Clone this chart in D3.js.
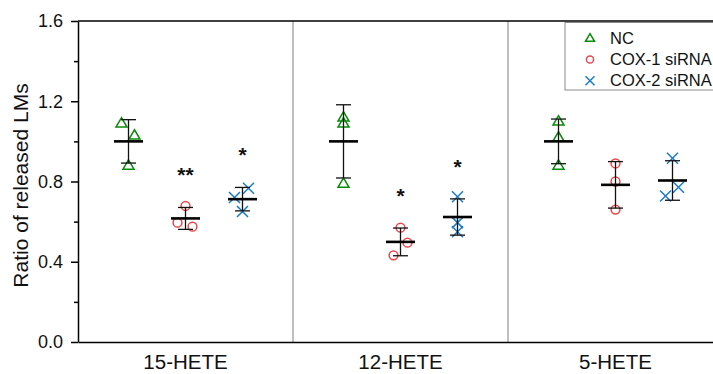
<!DOCTYPE html>
<html>
<head>
<meta charset="utf-8">
<script src="https://cdn.jsdelivr.net/npm/d3@7"></script>
<style>
  body { margin: 0; background: #fff; }
  svg { display: block; font-family: "Liberation Sans", Arial, sans-serif; }
</style>
</head>
<body>
<script>
// data
const categories = ["15-HETE", "12-HETE", "5-HETE"];
const groups = ["NC", "COX-1 siRNA", "COX-2 siRNA"];
const ncValues = [[1.09, 1.03, 0.88], [1.12, 1.09, 0.79], [1.10, 1.02, 0.88]];
const cox1Values = [[0.678, 0.595, 0.575], [0.57, 0.495, 0.432], [0.89, 0.80, 0.66]];
const cox2Values = [[0.766, 0.72, 0.65], [0.724, 0.595, 0.55], [0.916, 0.771, 0.728]];
const stars = [["", "**", "*"], ["", "*", "*"], ["", "", ""]];
const yTicks = [0, 0.4, 0.8, 1.2, 1.6];
const yMinorTicks = [0.2, 0.6, 1.0, 1.4];

const svgWidth = 713,
  svgHeight = 374,
  plotLeft = 78,
  plotRight = 723,
  plotTop = 21,
  plotBottom = 342;

const colors = { "NC": "#0a8a0a", "COX-1 siRNA": "#e8474c", "COX-2 siRNA": "#1a7cc6" };

// little horizontal scatter of the replicate points (px), like the original
const jitter = [
  [[-7, 6, 0], [0, -8, 7], [6, -8, 0]],
  [[0, 0, 0], [0, 7, -7], [0, 0, 0]],
  [[0, 0, 0], [0, 0, 0], [0, 6, -7]]
];

const x = d3.scaleBand().domain(categories).range([plotLeft, plotRight]);
const xg = d3.scalePoint().domain(groups).range([-57, 57]);
const y = d3.scaleLinear().domain([0, 1.6]).range([plotBottom, plotTop]);

const svg = d3.select("body").append("svg")
  .attr("width", svgWidth)
  .attr("height", svgHeight)
  .style("overflow", "hidden");

// panel dividers
svg.append("g").selectAll("line")
  .data(categories.slice(1))
  .join("line")
  .attr("x1", d => x(d)).attr("x2", d => x(d))
  .attr("y1", plotTop).attr("y2", plotBottom)
  .attr("stroke", "#a8a8a8").attr("stroke-width", 1.5);

// top frame line
svg.append("line")
  .attr("x1", plotLeft).attr("x2", plotRight)
  .attr("y1", plotTop).attr("y2", plotTop)
  .attr("stroke", "#000").attr("stroke-width", 1.5);

// y axis
const yAxis = svg.append("g")
  .attr("transform", `translate(${plotLeft},0)`)
  .call(d3.axisLeft(y).tickValues(yTicks).tickFormat(d3.format(".1f"))
    .tickSize(7).tickSizeOuter(0).tickPadding(8));
yAxis.selectAll("text").attr("font-size", 18).attr("fill", "#111");
yAxis.attr("font-family", null);
yAxis.selectAll("line,path").attr("stroke", "#000").attr("stroke-width", 1.5);

const yMinor = svg.append("g")
  .attr("transform", `translate(${plotLeft},0)`)
  .call(d3.axisLeft(y).tickValues(yMinorTicks).tickFormat("").tickSize(4).tickSizeOuter(0));
yMinor.select("path").remove();
yMinor.selectAll("line").attr("stroke", "#000").attr("stroke-width", 1.5);

// x axis
const xAxis = svg.append("g")
  .attr("transform", `translate(0,${plotBottom})`)
  .call(d3.axisBottom(x).tickSize(0).tickSizeOuter(0).tickPadding(12));
xAxis.attr("font-family", null);
xAxis.selectAll("text").attr("font-size", 20.5).attr("fill", "#111");
xAxis.select("path").attr("stroke", "#000").attr("stroke-width", 1.5);

// y label
svg.append("text")
  .attr("transform", `translate(28,${(plotTop + plotBottom) / 2 + 4}) rotate(-90)`)
  .attr("text-anchor", "middle")
  .attr("font-size", 21)
  .attr("fill", "#111")
  .text("Ratio of released LMs");

function marker(sel, group, size) {
  const c = colors[group];
  if (group === "NC") {
    const h = size * 0.85;
    sel.append("path")
      .attr("d", `M0,${-h * 0.6}L${size / 2},${h * 0.4}L${-size / 2},${h * 0.4}Z`)
      .attr("fill", "none").attr("stroke", c).attr("stroke-width", 1.5);
  } else if (group === "COX-1 siRNA") {
    sel.append("circle").attr("r", size * 0.4)
      .attr("fill", "none").attr("stroke", c).attr("stroke-width", 1.5);
  } else {
    const s = size / 2;
    sel.append("path")
      .attr("d", `M${-s},${-s}L${s},${s}M${-s},${s}L${s},${-s}`)
      .attr("fill", "none").attr("stroke", c).attr("stroke-width", 1.5);
  }
}

const allValues = [ncValues, cox1Values, cox2Values];

categories.forEach((cat, ci) => {
  groups.forEach((g, gi) => {
    const vals = allValues[gi][ci];
    const cx = x(cat) + x.bandwidth() / 2 + xg(g);
    const mean = d3.mean(vals);
    const sd = d3.deviation(vals);
    const grp = svg.append("g");

    // replicate points
    vals.forEach((v, i) => {
      const m = grp.append("g")
        .attr("transform", `translate(${cx + jitter[ci][gi][i]},${y(v)})`);
      marker(m, g, 11);
    });

    // error bar (mean +/- SD)
    grp.append("line")
      .attr("x1", cx).attr("x2", cx)
      .attr("y1", y(mean + sd)).attr("y2", y(mean - sd))
      .attr("stroke", "#111").attr("stroke-width", 1.3);
    [mean + sd, mean - sd].forEach(v => {
      grp.append("line")
        .attr("x1", cx - 7.5).attr("x2", cx + 7.5)
        .attr("y1", y(v)).attr("y2", y(v))
        .attr("stroke", "#111").attr("stroke-width", 1.3);
    });
    grp.append("line")
      .attr("x1", cx - 14.5).attr("x2", cx + 14.5)
      .attr("y1", y(mean)).attr("y2", y(mean))
      .attr("stroke", "#000").attr("stroke-width", 2.6);

    if (stars[ci][gi]) {
      grp.append("text")
        .attr("x", cx).attr("y", y(mean + sd) - 25)
        .attr("text-anchor", "middle")
        .attr("font-size", 21).attr("font-weight", "bold")
        .attr("fill", "#111")
        .text(stars[ci][gi]);
    }
  });
});

// legend
const legend = svg.append("g").attr("transform", "translate(565,22.5)");
legend.append("rect")
  .attr("width", 200).attr("height", 67.5)
  .attr("fill", "#fff").attr("stroke", "#8a8a8a").attr("stroke-width", 1);
groups.forEach((g, i) => {
  const row = legend.append("g").attr("transform", `translate(25,${15.8 + i * 21.2})`);
  marker(row.append("g"), g, 9);
  row.append("text")
    .attr("x", 20).attr("dy", "0.35em")
    .attr("font-size", 16.5).attr("fill", "#111")
    .text(g);
});
</script>
</body>
</html>
